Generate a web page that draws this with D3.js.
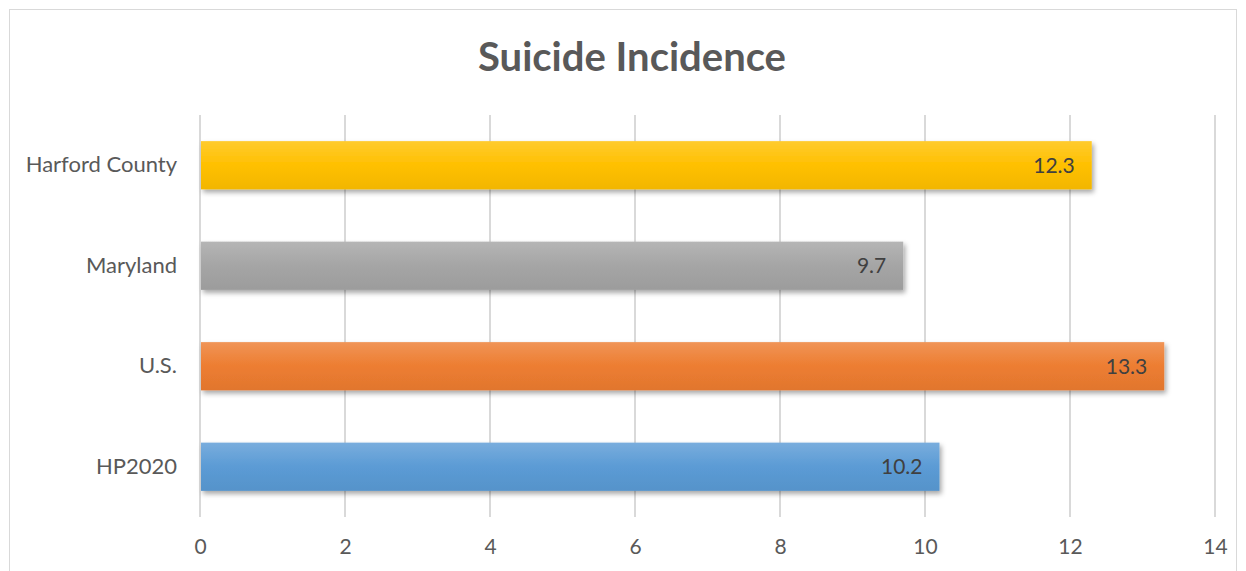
<!DOCTYPE html>
<html>
<head>
<meta charset="utf-8">
<script src="https://cdn.jsdelivr.net/npm/d3@7"></script>
<style>
  html, body { margin: 0; padding: 0; background: #fff; }
  svg { display: block; font-family: Lato, "Open Sans", sans-serif; }
</style>
</head>
<body>
<svg id="chart" width="1246" height="571"></svg>
<script>
// Suicide incidence (per 100,000)
const categories = ["Harford County", "Maryland", "U.S.", "HP2020"];
const values = [12.3, 9.7, 13.3, 10.2];
const barColors = ["#ffc000", "#a5a5a5", "#ed7d31", "#5b9bd5"];
const xTicks = [0, 2, 4, 6, 8, 10, 12, 14];
const title = "Suicide Incidence";

const svg = d3.select("#chart");
const W = 1246, H = 571;
const margin = { top: 115, right: 31, bottom: 54, left: 200 };

// chart frame
svg.append("rect")
  .attr("x", 9.5).attr("y", 9.5)
  .attr("width", W - 19).attr("height", H + 20)
  .attr("fill", "#fff").attr("stroke", "#d9d9d9").attr("stroke-width", 1);

const x = d3.scaleLinear().domain([0, 14]).range([margin.left, W - margin.right]);
const y = d3.scaleBand().domain(categories)
  .range([margin.top, H - margin.bottom])
  .paddingInner(0.52).paddingOuter(0.26);

const defs = svg.append("defs");

// vertical gradients per bar colour
function shade(c, k) {
  const col = d3.color(c);
  return k > 0 ? col.brighter(k).formatHex() : col.darker(-k).formatHex();
}
barColors.forEach((c, i) => {
  const g = defs.append("linearGradient").attr("id", "grad" + i)
    .attr("x1", 0).attr("y1", 0).attr("x2", 0).attr("y2", 1);
  const top = d3.interpolateRgb(c, "#ffffff")(0.18);
  g.append("stop").attr("offset", "0%").attr("stop-color", top);
  g.append("stop").attr("offset", "50%").attr("stop-color", c);
  g.append("stop").attr("offset", "100%").attr("stop-color", shade(c, -0.15));
});

const shadow = defs.append("filter").attr("id", "shadow")
  .attr("x", "-5%").attr("y", "-30%").attr("width", "110%").attr("height", "170%");
shadow.append("feDropShadow")
  .attr("dx", 2).attr("dy", 3).attr("stdDeviation", 2.5)
  .attr("flood-color", "#000").attr("flood-opacity", 0.35);

// gridlines
svg.append("g")
  .selectAll("line").data(xTicks).join("line")
  .attr("x1", d => x(d)).attr("x2", d => x(d))
  .attr("y1", margin.top).attr("y2", H - margin.bottom)
  .attr("stroke", "#d9d9d9").attr("stroke-width", 2);

// x axis labels
const xAxis = d3.axisBottom(x).tickValues(xTicks).tickSize(0).tickPadding(0);
const gx = svg.append("g")
  .attr("transform", `translate(0,${H - margin.bottom + 22})`)
  .call(xAxis);
gx.select(".domain").remove();
gx.selectAll("text")
  .attr("font-size", 21).attr("fill", "#595959")
  .attr("font-family", "Lato, 'Open Sans', sans-serif");

// y axis labels
const yAxis = d3.axisLeft(y).tickSize(0).tickPadding(23);
const gy = svg.append("g").attr("transform", `translate(${margin.left},0)`).call(yAxis);
gy.select(".domain").remove();
gy.selectAll("text")
  .attr("font-size", 22).attr("fill", "#595959")
  .attr("font-family", "Lato, 'Open Sans', sans-serif");

// bars
svg.append("g")
  .selectAll("rect").data(categories).join("rect")
  .attr("x", x(0) + 1)
  .attr("y", d => y(d))
  .attr("width", (d, i) => x(values[i]) - x(0) - 1)
  .attr("height", y.bandwidth())
  .attr("fill", (d, i) => `url(#grad${i})`)
  .attr("filter", "url(#shadow)");

// value labels
svg.append("g")
  .selectAll("text").data(categories).join("text")
  .attr("x", (d, i) => x(values[i]) - 17)
  .attr("y", d => y(d) + y.bandwidth() / 2)
  .attr("dy", "0.36em")
  .attr("text-anchor", "end")
  .attr("font-size", 21).attr("fill", "#404040")
  .text((d, i) => values[i].toFixed(1));

// title
svg.append("text")
  .attr("x", 632).attr("y", 71)
  .attr("text-anchor", "middle")
  .attr("font-size", 40).attr("font-weight", "bold").attr("fill", "#595959")
  .text(title);
</script>
</body>
</html>
